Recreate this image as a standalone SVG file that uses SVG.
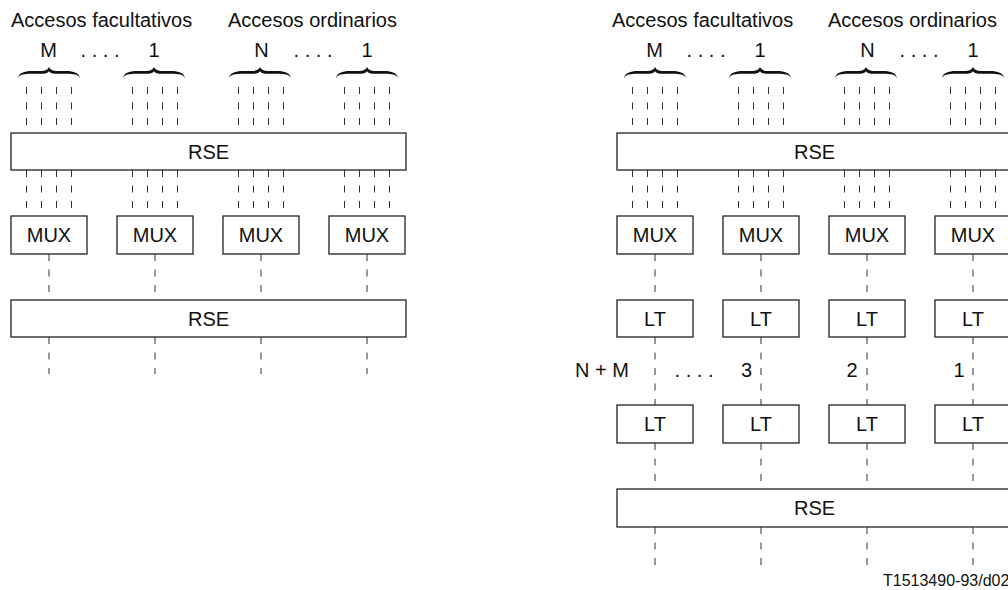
<svg xmlns="http://www.w3.org/2000/svg" xmlns:xlink="http://www.w3.org/1999/xlink" width="1008" height="590" viewBox="0 0 1008 590">
  <style>
    text { font-family: "Liberation Sans", Arial, sans-serif; font-size: 20px; fill: #111; }
    .mid { text-anchor: middle; }
    .box { fill: #fff; stroke: #222; stroke-width: 1.3; }
    .dash { stroke: #333; stroke-width: 1; stroke-dasharray: 7 8.5; fill: none; }
    .brace { fill: #111; }
    .small { font-size: 16px; }
  </style>
  <defs>
    <!-- horizontal curly brace, tip at (0,0), opening downwards -->
    <path id="brace" class="brace" d="M -31,11 C -30,6 -25,4 -17,4 L -8,4 C -4,4 -1,2.5 0,0 C 1,2.5 4,4 8,4 L 17,4 C 25,4 30,6 31,11 C 29,7.5 25,6.8 17,6.8 L 8,6.8 C 4,6.8 1.2,6 0,4.2 C -1.2,6 -4,6.8 -8,6.8 L -17,6.8 C -25,6.8 -29,7.5 -31,11 Z"/>
  </defs>

  <!-- ===================== left arrangement ===================== -->
  <g id="left-labels">
    <text x="11" y="27">Accesos facultativos</text>
    <text x="228" y="27">Accesos ordinarios</text>
    <text class="mid" x="48.5" y="57">M</text>
    <text class="mid" x="100" y="57">. . . .</text>
    <text class="mid" x="154" y="57">1</text>
    <text class="mid" x="261.5" y="57">N</text>
    <text class="mid" x="313" y="57">. . . .</text>
    <text class="mid" x="367" y="57">1</text>
    <use xlink:href="#brace" x="49" y="67"/>
    <use xlink:href="#brace" x="154" y="67"/>
    <use xlink:href="#brace" x="260" y="67"/>
    <use xlink:href="#brace" x="367" y="67"/>
  </g>

  <g id="left-connectors">
    <!-- access lines into the upper exchange -->
    <path class="dash" d="M26.5,87V133M41.5,87V133M56.5,87V133M71.5,87V133
      M132.5,87V133M147.5,87V133M162.5,87V133M177.5,87V133
      M238.5,87V133M253.5,87V133M268.5,87V133M283.5,87V133
      M344.5,87V133M359.5,87V133M374.5,87V133M389.5,87V133"/>
    <!-- exchange to multiplexers -->
    <path class="dash" d="M26.5,170V216M41.5,170V216M56.5,170V216M71.5,170V216
      M132.5,170V216M147.5,170V216M162.5,170V216M177.5,170V216
      M238.5,170V216M253.5,170V216M268.5,170V216M283.5,170V216
      M344.5,170V216M359.5,170V216M374.5,170V216M389.5,170V216"/>
    <!-- multiplexers to lower exchange -->
    <path class="dash" d="M49,254V300M155,254V300M261,254V300M367,254V300"/>
    <!-- outgoing lines -->
    <path class="dash" d="M49,337V374M155,337V374M261,337V374M367,337V374"/>
  </g>

  <g id="left-rse-1">
    <rect class="box" x="11" y="133" width="395" height="37"/>
    <text class="mid" x="208.5" y="158.5">RSE</text>
  </g>
  <g id="left-mux-1">
    <rect class="box" x="11" y="216" width="76" height="38"/>
    <text class="mid" x="49" y="242">MUX</text>
  </g>
  <g id="left-mux-2">
    <rect class="box" x="117" y="216" width="76" height="38"/>
    <text class="mid" x="155" y="242">MUX</text>
  </g>
  <g id="left-mux-3">
    <rect class="box" x="223" y="216" width="76" height="38"/>
    <text class="mid" x="261" y="242">MUX</text>
  </g>
  <g id="left-mux-4">
    <rect class="box" x="329" y="216" width="76" height="38"/>
    <text class="mid" x="367" y="242">MUX</text>
  </g>
  <g id="left-rse-2">
    <rect class="box" x="11" y="300" width="395" height="37"/>
    <text class="mid" x="208.5" y="325.5">RSE</text>
  </g>

  <!-- ===================== right arrangement ===================== -->
  <g id="right-labels">
    <text x="612" y="27">Accesos facultativos</text>
    <text x="828" y="27">Accesos ordinarios</text>
    <text class="mid" x="654.5" y="57">M</text>
    <text class="mid" x="706" y="57">. . . .</text>
    <text class="mid" x="760" y="57">1</text>
    <text class="mid" x="867.5" y="57">N</text>
    <text class="mid" x="919" y="57">. . . .</text>
    <text class="mid" x="973" y="57">1</text>
    <use xlink:href="#brace" x="655" y="67"/>
    <use xlink:href="#brace" x="760" y="67"/>
    <use xlink:href="#brace" x="866" y="67"/>
    <use xlink:href="#brace" x="973" y="67"/>
    <text x="575" y="377">N + M</text>
    <text class="mid" x="694" y="377">. . . .</text>
    <text class="mid" x="746.5" y="377">3</text>
    <text class="mid" x="852" y="377">2</text>
    <text class="mid" x="959" y="377">1</text>
    <text class="small" x="883" y="586">T1513490-93/d02</text>
  </g>

  <g id="right-connectors">
    <path class="dash" d="M632.5,87V133M647.5,87V133M662.5,87V133M677.5,87V133
      M738.5,87V133M753.5,87V133M768.5,87V133M783.5,87V133
      M844.5,87V133M859.5,87V133M874.5,87V133M889.5,87V133
      M950.5,87V133M965.5,87V133M980.5,87V133M995.5,87V133"/>
    <path class="dash" d="M632.5,170V216M647.5,170V216M662.5,170V216M677.5,170V216
      M738.5,170V216M753.5,170V216M768.5,170V216M783.5,170V216
      M844.5,170V216M859.5,170V216M874.5,170V216M889.5,170V216
      M950.5,170V216M965.5,170V216M980.5,170V216M995.5,170V216"/>
    <!-- multiplexers to line terminations -->
    <path class="dash" d="M655,254V300M761,254V300M867,254V300M973,254V300"/>
    <!-- transmission links between line terminations -->
    <path class="dash" d="M655,337V405M761,337V405M867,337V405M973,337V405"/>
    <!-- line terminations to remote exchange -->
    <path class="dash" d="M655,443V489M761,443V489M867,443V489M973,443V489"/>
    <!-- outgoing lines -->
    <path class="dash" d="M655,527V567M761,527V567M867,527V567M973,527V567"/>
  </g>

  <g id="right-rse-1">
    <rect class="box" x="617" y="133" width="395" height="37"/>
    <text class="mid" x="814.5" y="158.5">RSE</text>
  </g>
  <g id="right-mux-1">
    <rect class="box" x="617" y="216" width="76" height="38"/>
    <text class="mid" x="655" y="242">MUX</text>
  </g>
  <g id="right-mux-2">
    <rect class="box" x="723" y="216" width="76" height="38"/>
    <text class="mid" x="761" y="242">MUX</text>
  </g>
  <g id="right-mux-3">
    <rect class="box" x="829" y="216" width="76" height="38"/>
    <text class="mid" x="867" y="242">MUX</text>
  </g>
  <g id="right-mux-4">
    <rect class="box" x="935" y="216" width="76" height="38"/>
    <text class="mid" x="973" y="242">MUX</text>
  </g>
  <g id="right-lt-a1">
    <rect class="box" x="617" y="300" width="76" height="37"/>
    <text class="mid" x="655" y="325.5">LT</text>
  </g>
  <g id="right-lt-a2">
    <rect class="box" x="723" y="300" width="76" height="37"/>
    <text class="mid" x="761" y="325.5">LT</text>
  </g>
  <g id="right-lt-a3">
    <rect class="box" x="829" y="300" width="76" height="37"/>
    <text class="mid" x="867" y="325.5">LT</text>
  </g>
  <g id="right-lt-a4">
    <rect class="box" x="935" y="300" width="76" height="37"/>
    <text class="mid" x="973" y="325.5">LT</text>
  </g>
  <g id="right-lt-b1">
    <rect class="box" x="617" y="405" width="76" height="38"/>
    <text class="mid" x="655" y="431">LT</text>
  </g>
  <g id="right-lt-b2">
    <rect class="box" x="723" y="405" width="76" height="38"/>
    <text class="mid" x="761" y="431">LT</text>
  </g>
  <g id="right-lt-b3">
    <rect class="box" x="829" y="405" width="76" height="38"/>
    <text class="mid" x="867" y="431">LT</text>
  </g>
  <g id="right-lt-b4">
    <rect class="box" x="935" y="405" width="76" height="38"/>
    <text class="mid" x="973" y="431">LT</text>
  </g>
  <g id="right-rse-2">
    <rect class="box" x="617" y="489" width="395" height="38"/>
    <text class="mid" x="814.5" y="515">RSE</text>
  </g>
</svg>
